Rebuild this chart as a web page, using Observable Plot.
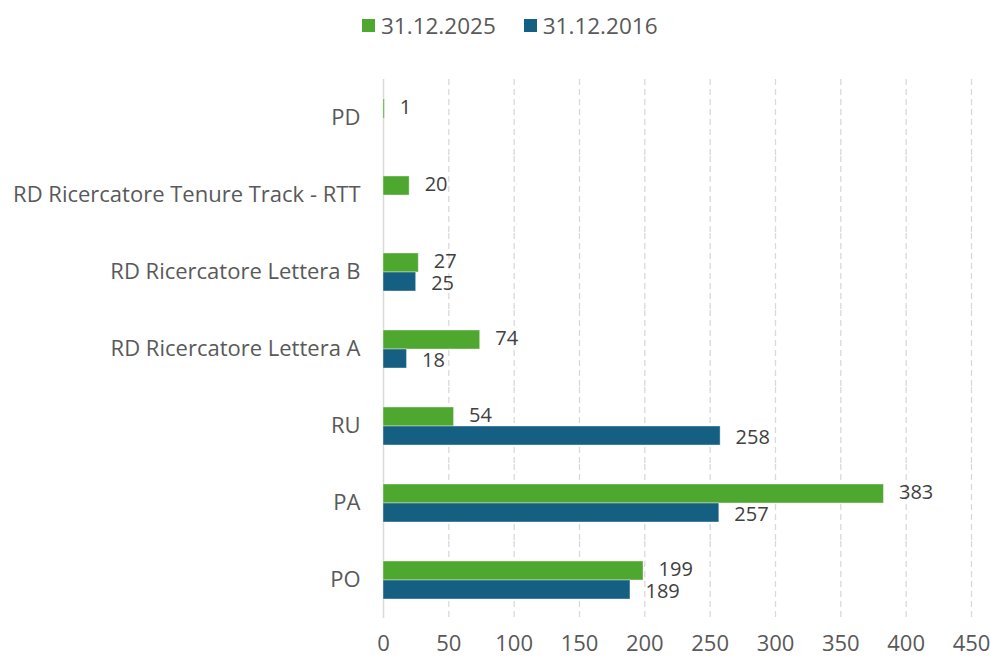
<!DOCTYPE html>
<html><head><meta charset="utf-8">
<script src="https://cdn.jsdelivr.net/npm/d3@7"></script>
<script src="https://cdn.jsdelivr.net/npm/@observablehq/plot@0.6"></script>
<style>
body{margin:0;background:#fff;font-family:"Open Sans",sans-serif;}
#legend{height:50px;display:flex;align-items:center;padding-left:362px;font-size:22.5px;color:#595959;box-sizing:border-box;}
#legend .item{display:flex;align-items:center;margin-right:28px;}
#legend .sw{width:13px;height:13px;margin-right:6px;}
</style></head><body>
<div id="legend"></div><div id="chart"></div>
<script>
const categories = ["PD","RD Ricercatore Tenure Track - RTT","RD Ricercatore Lettera B","RD Ricercatore Lettera A","RU","PA","PO"];
const series = ["31.12.2025","31.12.2016"];
const values2025 = [1,20,27,74,54,383,199];
const values2016 = [null,null,25,18,258,257,189];
const colors = ["#4EA72E","#156082"];
const xTicks = [0,50,100,150,200,250,300,350,400,450];

const data = [];
categories.forEach((c,i)=>{
  data.push({cat:c, series:series[0], value:values2025[i]});
  if (values2016[i] != null) data.push({cat:c, series:series[1], value:values2016[i]});
});

const legend = document.getElementById("legend");
series.forEach((s,i)=>{
  const it = document.createElement("div"); it.className="item";
  const sw = document.createElement("div"); sw.className="sw"; sw.style.background=colors[i];
  const tx = document.createElement("span"); tx.textContent = s;
  it.appendChild(sw); it.appendChild(tx); legend.appendChild(it);
});

const chart = Plot.plot({
  width: 990, height: 609,
  marginLeft: 383, marginRight: 19, marginTop: 27, marginBottom: 39,
  style: {fontFamily: "Open Sans, sans-serif", fontSize: "22px", color: "#595959", background: "white", overflow: "visible"},
  x: {domain: [0,450], ticks: xTicks, tickSize: 0, tickPadding: 17, label: null},
  fy: {domain: categories, padding: 0, label: null, tickSize: 0, tickPadding: 23, axis: "left"},
  y: {domain: series, paddingInner: 0, paddingOuter: 0.94, axis: null},
  color: {domain: series, range: colors},
  marks: [
    Plot.ruleX(xTicks.filter(d => d > 0), {stroke: "#d9d9d9", strokeOpacity: 1, strokeWidth: 1.3, strokeDasharray: "6,4"}),
    Plot.ruleX([0], {stroke: "#d9d9d9", strokeOpacity: 1, strokeWidth: 1.5}),
    Plot.barX(data, {fy: "cat", y: "series", x: "value", fill: "series", stroke: "white", strokeOpacity: 0.4, strokeWidth: 1}),
    Plot.text(data.filter(d => d.series === series[0]), {fy: "cat", y: "series", x: "value", text: d => String(d.value), textAnchor: "start", dx: 15, dy: -1, fill: "#404040", fontSize: 20}),
    Plot.text(data.filter(d => d.series === series[1]), {fy: "cat", y: "series", x: "value", text: d => String(d.value), textAnchor: "start", dx: 15, dy: 1.5, fill: "#404040", fontSize: 20})
  ]
});
document.getElementById("chart").appendChild(chart);
</script>
</body></html>
